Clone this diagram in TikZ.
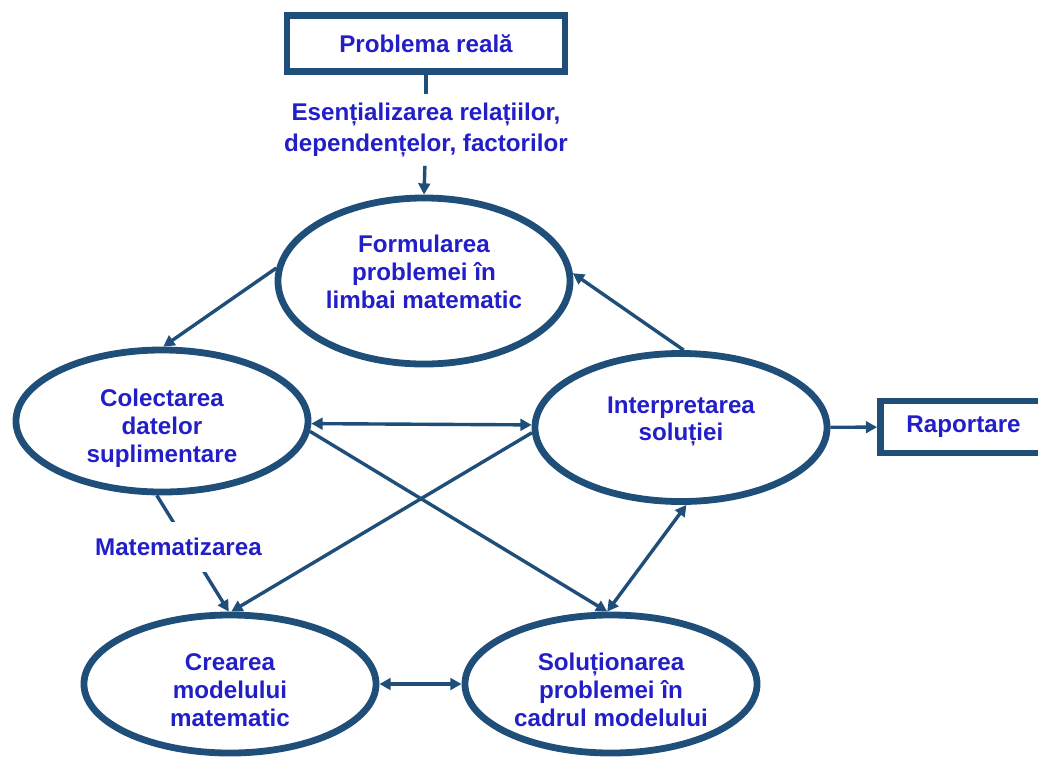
\documentclass[tikz,border=0pt]{standalone}
\usepackage{fontspec}
\setmainfont{Liberation Sans}
\usetikzlibrary{shapes.geometric,arrows.meta}
\definecolor{lineblue}{RGB}{31,78,121}
\definecolor{textblue}{RGB}{34,30,200}
% text lines moved off the centre of their ellipse
\newcommand{\liftlines}[2]{\raisebox{#1}[0pt][0pt]{\begin{tabular}{@{}c@{}}#2\end{tabular}}}

\begin{document}
\begin{tikzpicture}[x=0.025cm, y=-0.025cm,
    txt/.style={text=textblue, align=center, font=\bfseries\fontsize{17.2}{19.8}\selectfont},
    stage/.style={txt, ellipse, draw=lineblue, line width=0.17cm, inner sep=0pt, minimum width=7.3cm},
    box/.style={txt, rectangle, draw=lineblue, line width=0.17cm, inner sep=0pt},
    link/.style={draw=lineblue, line width=0.085cm, -{Triangle[length=0.28cm,width=0.29cm]}},
    both/.style={link, {Triangle[length=0.28cm,width=0.29cm]}-{Triangle[length=0.28cm,width=0.29cm]}}]
    \useasboundingbox (0,0) rectangle (1038,758);

    % Boxes
    \node[box, minimum width=6.95cm, minimum height=1.4cm] (prob) at (426,43.5) {Problema reală};
    \node[box, minimum width=4.15cm, minimum height=1.3cm] (rap) at (963.5,427) {Raportare};

    % Stages of the model
    \node[stage, minimum height=4.15cm] (form) at (424,281)
        {\liftlines{0pt}{Formularea\\problemei în\\limbai matematic}};
    \node[stage, minimum height=3.55cm] (colect) at (162,421)
        {\liftlines{-10pt}{Colectarea\\datelor\\suplimentare}};
    \node[stage, minimum height=3.7cm] (interp) at (681,427.5)
        {\liftlines{0pt}{Interpretarea\\soluției}};
    \node[stage, minimum height=3.45cm] (crea) at (230,684)
        {\liftlines{-10.5pt}{Crearea\\modelului\\matematic}};
    \node[stage, minimum height=3.45cm] (sol) at (611,684)
        {\liftlines{-10.5pt}{Soluționarea\\problemei în\\cadrul modelului}};

    % Label between the real problem and the formulation
    \node[txt, font=\bfseries\fontsize{17.2}{22.7}\selectfont, minimum height=1.78cm, inner sep=0pt] (esent) at (426,130)
        {Esențializarea relațiilor,\\dependențelor, factorilor};

    \draw[link, -] (prob) -- (esent);
    \draw[link] (esent) -- (form.north);

    % Cycle through the stages
    \draw[link] (form.175) -- (colect.89);
    \draw[link] (interp.88) -- (form.3);
    \draw[both] (colect.-1) -- (interp.179);
    \draw[link] (colect.-4) -- (sol.93);
    \draw[link] (interp.182) -- (crea.89);
    \draw[link] (colect.266) -- node[txt, fill=white, pos=0.44, xshift=-0.25cm, minimum height=1.25cm, inner xsep=2pt] {Matematizarea} (crea.91);
    \draw[both] (interp.274) -- (sol.93);
    \draw[both] (crea) -- (sol);
    \draw[link] (interp) -- (rap);
\end{tikzpicture}
\end{document}
